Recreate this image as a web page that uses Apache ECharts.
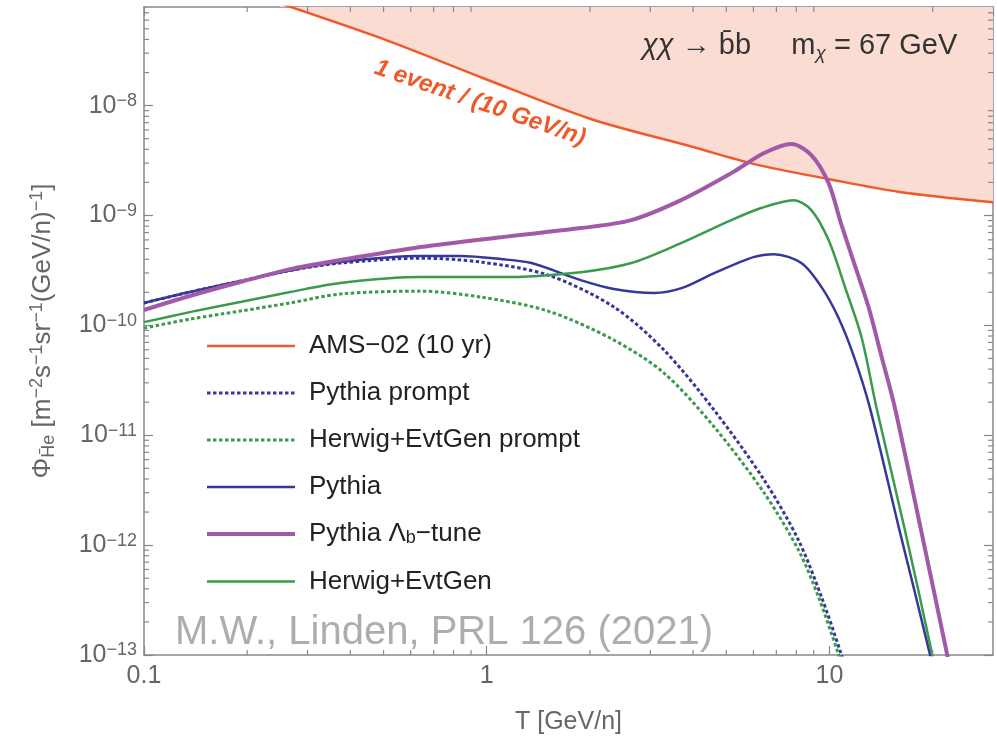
<!DOCTYPE html>
<html><head><meta charset="utf-8">
<script src="https://cdn.jsdelivr.net/npm/echarts@6/dist/echarts.min.js"></script>
<style>html,body{margin:0;padding:0;background:#fff}#c{width:997px;height:738px}</style>
</head><body><div id="c"></div>
<script>
// ---------- data ----------
const X_MIN = 0.1, X_MAX = 30, Y_MIN = 1e-13, Y_MAX = 7.9e-8;
const xTickLabels = ['0.1', '1', '10'];
const yTickExponents = [-13, -12, -11, -10, -9, -8];
const xMinorTicks = [0.2,0.3,0.4,0.5,0.6,0.7,0.8,0.9,2,3,4,5,6,7,8,9,20];
const minorMantissas = [2,3,4,5,6,7,8,9];

const T_ams = [0.25, 0.5, 1, 2, 4, 6, 10, 16, 30];
const ams = [8.5e-8, 4.03e-8, 1.73e-8, 7.6e-9, 4.2e-9, 2.95e-9, 2.14e-9, 1.64e-9, 1.32e-9];

const T_py = [0.1,0.136,0.191,0.267,0.374,0.641,0.839,1.10,1.35,1.88,2.35,3.08,3.7,4.61,6.0,6.9,8.28,9.48,10.6,11.8,13.1,16.0,19.6,20.6];
const pythia = [1.60e-10,2.01e-10,2.53e-10,3.16e-10,3.77e-10,4.27e-10,4.27e-10,4.01e-10,3.69e-10,2.58e-10,2.14e-10,1.97e-10,2.18e-10,2.99e-10,4.18e-10,4.45e-10,3.69e-10,2.23e-10,1.19e-10,5.15e-11,1.81e-11,1.37e-12,1.04e-13,4.8e-14];

const T_lb = [0.1,0.136,0.191,0.267,0.374,0.641,1.10,1.88,2.64,3.69,5.17,6.45,7.74,8.85,9.94,10.8,11.8,13.0,14.2,15.5,18.5,22.0,23.1];
const pythiaLb = [1.38e-10,1.85e-10,2.48e-10,3.25e-10,3.93e-10,5.16e-10,6.35e-10,7.68e-10,9.08e-10,1.38e-9,2.43e-9,3.70e-9,4.47e-9,3.55e-9,1.97e-9,8.53e-10,3.69e-10,1.47e-10,5.15e-11,1.81e-11,1.37e-12,1.04e-13,4.8e-14];

const T_hw = [0.1,0.136,0.191,0.267,0.374,0.641,1.10,1.88,2.64,3.69,5.17,6.32,7.85,8.85,9.94,11.1,12.4,13.7,16.6,19.9,20.8];
const herwig = [1.07e-10,1.32e-10,1.63e-10,2.01e-10,2.43e-10,2.75e-10,2.75e-10,3.05e-10,3.69e-10,5.61e-10,9.08e-10,1.17e-9,1.38e-9,1.12e-9,5.97e-10,2.23e-10,7.83e-11,1.81e-11,1.37e-12,1.04e-13,4.8e-14];

const T_pyp = [0.1,0.136,0.191,0.267,0.374,0.641,0.96,1.51,2.35,3.29,4.61,6.45,8.12,9.48,10.8,11.2];
const pythiaPrompt = [1.60e-10,2.01e-10,2.53e-10,3.16e-10,3.69e-10,4.09e-10,3.77e-10,2.87e-10,1.47e-10,5.96e-11,1.69e-11,3.91e-12,1.11e-12,3.37e-13,1.04e-13,7.3e-14];

const T_hwp = [0.1,0.136,0.191,0.267,0.374,0.641,0.96,1.51,2.35,3.29,4.61,6.45,8.12,9.29,10.6,11.0];
const herwigPrompt = [9.44e-11,1.14e-10,1.35e-10,1.60e-10,1.93e-10,2.05e-10,1.81e-10,1.35e-10,7.35e-11,3.68e-11,1.19e-11,2.98e-12,9.01e-13,3.37e-13,1.04e-13,7.3e-14];

const legendNames = ['AMS−02 (10 yr)', 'Pythia prompt', 'Herwig+EvtGen prompt', 'Pythia', 'Pythia Λb−tune', 'Herwig+EvtGen'];

// ---------- styling ----------
const FONT = 'Liberation Sans, Arial, sans-serif';
const AXIS_C = '#888888', LABEL_C = '#666666';
const C_ORANGE = '#ef5a2a', C_BLUE = '#37379b', C_PURPLE = '#a25aa8', C_GREEN = '#3a9a4e', C_FILL = '#fadcd3';

const pairs = (xs, ys) => xs.map((x, i) => [x, ys[i]]);
const yMinorTicks = [];
yTickExponents.forEach(e => minorMantissas.forEach(m => { const v = m * Math.pow(10, e); if (v < Y_MAX) yMinorTicks.push(v); }));

function yLabel(v) {
  const lg = Math.log10(v), e = Math.round(lg);
  if (Math.abs(lg - e) > 1e-6 || yTickExponents.indexOf(e) < 0) return '';
  return '{b|10}{s|' + (e < 0 ? '−' : '') + Math.abs(e) + '}';
}
function xLabel(v) {
  const lg = Math.log10(v), e = Math.round(lg);
  if (Math.abs(lg - e) > 1e-6) return '';
  return xTickLabels[e + 1] || '';
}

const axisLine = { show: true, lineStyle: { color: AXIS_C, width: 1.5 } };
const majorTick = { show: true, inside: true, length: 9, lineStyle: { color: AXIS_C, width: 1.2 } };

const chart = echarts.init(document.getElementById('c'), null, { renderer: 'canvas' });

const lineSeries = (name, data, color, width, dashed, z) => ({
  name, type: 'line', data, xAxisIndex: 0, yAxisIndex: 0,
  symbol: 'none', smooth: 0.3, clip: true, z,
  lineStyle: { color, width, type: dashed ? [3.5, 2.5] : 'solid', cap: 'butt' },
  itemStyle: { color },
  emphasis: { disabled: true }
});

chart.setOption({
  animation: false,
  backgroundColor: '#ffffff',
  grid: { left: 144, right: 4, top: 7, bottom: 83, containLabel: false, outerBoundsMode: 'none' },
  xAxis: [
    { type: 'log', logBase: 10, min: X_MIN, max: X_MAX, position: 'bottom',
      axisLine, axisTick: majorTick, splitLine: { show: false }, minorTick: { show: false },
      axisLabel: { formatter: xLabel, color: LABEL_C, fontSize: 25, fontFamily: FONT, margin: 9, showMaxLabel: false },
      name: 'T [GeV/n]', nameLocation: 'middle', nameGap: 55,
      nameTextStyle: { color: LABEL_C, fontSize: 25, fontFamily: FONT } },
    { type: 'log', logBase: 10, min: X_MIN, max: X_MAX, position: 'top',
      axisLine, axisTick: majorTick, splitLine: { show: false }, axisLabel: { show: false } }
  ],
  yAxis: [
    { type: 'log', logBase: 10, min: Y_MIN, max: Y_MAX, position: 'left',
      axisLine, axisTick: majorTick, splitLine: { show: false },
      axisLabel: { formatter: yLabel, color: LABEL_C, fontFamily: FONT, margin: 7, showMaxLabel: false,
        rich: { b: { fontSize: 25, lineHeight: 27, color: LABEL_C, fontFamily: FONT },
                s: { fontSize: 18, lineHeight: 18, verticalAlign: 'top', color: LABEL_C, fontFamily: FONT } } },
      name: '{m|Φ}{sub|H̄e}{m| [m}{sup|−2}{m|s}{sup|−1}{m|sr}{sup|−1}{m|(GeV/n)}{sup|−1}{m|]}',
      nameLocation: 'middle', nameGap: 86,
      nameTextStyle: { color: LABEL_C, fontFamily: FONT,
        rich: { m: { fontSize: 26, lineHeight: 30, color: LABEL_C, fontFamily: FONT },
                sup: { fontSize: 18, lineHeight: 18, verticalAlign: 'top', color: LABEL_C, fontFamily: FONT },
                sub: { fontSize: 18, lineHeight: 18, verticalAlign: 'bottom', color: LABEL_C, fontFamily: FONT } } } },
    { type: 'log', logBase: 10, min: Y_MIN, max: Y_MAX, position: 'right',
      axisLine, axisTick: majorTick, splitLine: { show: false }, axisLabel: { show: false } }
  ],
  legend: {
    data: legendNames, orient: 'vertical', left: 200, top: 328,
    itemWidth: 88, itemHeight: 14, itemGap: 21, selectedMode: false,
    lineStyle: { width: 'inherit' },
    itemStyle: { opacity: 0, borderWidth: 0 },
    textStyle: { fontFamily: FONT, fontSize: 26, color: '#222', padding: [0, 0, 0, 9],
      rich: { t: { fontSize: 26, lineHeight: 27, color: '#222', fontFamily: FONT },
              sub: { fontSize: 18, lineHeight: 18, verticalAlign: 'bottom', color: '#222', fontFamily: FONT } } },
    formatter: name => name === 'Pythia Λb−tune' ? '{t|Pythia Λ}{sub|b}{t|−tune}' : '{t|' + name + '}'
  },
  graphic: [
    { type: 'text', x: 480, y: 103, rotation: -19 * Math.PI / 180, z: 50,
      style: { text: '1 event / (10 GeV/n)', fill: C_ORANGE, fontSize: 24, fontWeight: 'bold', fontStyle: 'italic',
        fontFamily: FONT, align: 'center', verticalAlign: 'middle' } },
    { type: 'text', x: 642, y: 46, z: 50,
      style: { text: '{i|χχ}{n| → }{n|b̄b}{n|     m}{s|χ}{n| = 67 GeV}', align: 'left', verticalAlign: 'middle',
        rich: { i: { fontSize: 29, fontStyle: 'italic', fill: '#333', fontFamily: FONT, lineHeight: 34 },
                n: { fontSize: 29, fill: '#333', fontFamily: FONT, lineHeight: 34 },
                s: { fontSize: 19, fontStyle: 'italic', fill: '#333', fontFamily: FONT, lineHeight: 19, verticalAlign: 'bottom' } } } },
    { type: 'text', x: 175, y: 633, z: 50,
      style: { text: 'M.W., Linden, PRL 126 (2021)', fill: '#adadad', fontSize: 40, fontFamily: FONT,
        align: 'left', verticalAlign: 'middle' } }
  ],
  series: [
    { name: 'AMS−02 (10 yr)', type: 'line', data: pairs(T_ams, ams), symbol: 'none', smooth: 0.3, clip: true, z: 2,
      lineStyle: { color: C_ORANGE, width: 2.5 }, itemStyle: { color: C_ORANGE },
      areaStyle: { color: C_FILL, opacity: 1, origin: 'end' }, emphasis: { disabled: true } },
    lineSeries('Pythia prompt', pairs(T_pyp, pythiaPrompt), C_BLUE, 3, true, 3),
    lineSeries('Herwig+EvtGen prompt', pairs(T_hwp, herwigPrompt), C_GREEN, 3, true, 3),
    lineSeries('Pythia', pairs(T_py, pythia), C_BLUE, 2.5, false, 4),
    lineSeries('Herwig+EvtGen', pairs(T_hw, herwig), C_GREEN, 2.5, false, 4),
    lineSeries('Pythia Λb−tune', pairs(T_lb, pythiaLb), C_PURPLE, 4, false, 5),
    { type: 'custom', silent: true, clip: false, z: 6, xAxisIndex: 0, yAxisIndex: 0,
      data: xMinorTicks.map(v => [v, Y_MIN]), encode: { x: 0, y: 1 },
      renderItem: (params, api) => {
        const x = api.coord([api.value(0), Y_MIN])[0];
        const cs = params.coordSys;
        const st = { stroke: AXIS_C, lineWidth: 1.2 };
        return { type: 'group', children: [
          { type: 'line', shape: { x1: x, y1: cs.y + cs.height, x2: x, y2: cs.y + cs.height - 5 }, style: st },
          { type: 'line', shape: { x1: x, y1: cs.y, x2: x, y2: cs.y + 5 }, style: st } ] };
      } },
    { type: 'custom', silent: true, clip: false, z: 6, xAxisIndex: 0, yAxisIndex: 0,
      data: yMinorTicks.map(v => [X_MIN, v]), encode: { x: 0, y: 1 },
      renderItem: (params, api) => {
        const y = api.coord([X_MIN, api.value(1)])[1];
        const cs = params.coordSys;
        const st = { stroke: AXIS_C, lineWidth: 1.2 };
        return { type: 'group', children: [
          { type: 'line', shape: { x1: cs.x, y1: y, x2: cs.x + 5, y2: y }, style: st },
          { type: 'line', shape: { x1: cs.x + cs.width, y1: y, x2: cs.x + cs.width - 5, y2: y }, style: st } ] };
      } }
  ]
});
</script></body></html>
